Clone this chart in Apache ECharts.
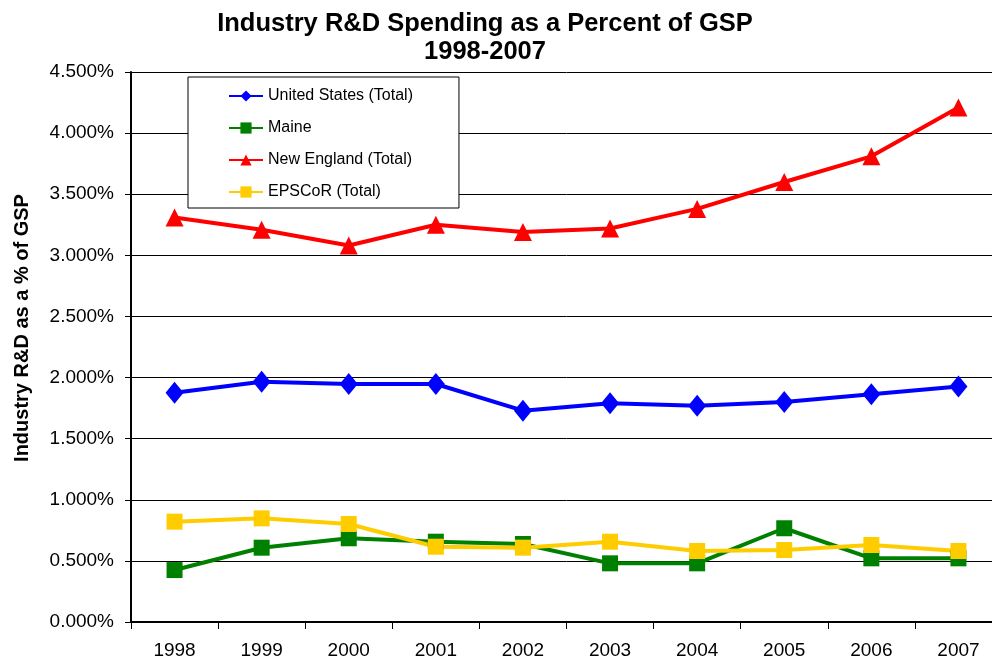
<!DOCTYPE html>
<html><head><meta charset="utf-8">
<script src="https://cdn.jsdelivr.net/npm/echarts@6/dist/echarts.min.js"></script>
<style>html,body{margin:0;padding:0;background:#fff;overflow:hidden}#c{width:1010px;height:661px}</style>
</head><body><div id="c"></div>
<script>
const years = ['1998','1999','2000','2001','2002','2003','2004','2005','2006','2007'];
const usTotal = [1.876, 1.966, 1.947, 1.947, 1.729, 1.789, 1.770, 1.800, 1.863, 1.926];
const maine = [0.425, 0.608, 0.685, 0.657, 0.638, 0.480, 0.480, 0.767, 0.521, 0.521];
const newEngland = [3.31, 3.21, 3.08, 3.25, 3.19, 3.22, 3.38, 3.60, 3.81, 4.21];
const epscor = [0.821, 0.848, 0.802, 0.616, 0.608, 0.657, 0.581, 0.589, 0.630, 0.581];
const yTicks = {min: 0, max: 4.5, interval: 0.5};

const font = 'Liberation Sans, Arial, Helvetica, sans-serif';
const chart = echarts.init(document.getElementById('c'), null, {renderer: 'canvas'});
function line(name, data, color, symbol, size) {
  return {
    name, type: 'line', data, symbol, symbolSize: size,
    lineStyle: {color, width: 4}, itemStyle: {color},
    animation: false
  };
}
chart.setOption({
  animation: false,
  title: {
    text: 'Industry R&D Spending as a Percent of GSP\n1998-2007',
    left: 480, top: 5, textAlign: 'center',
    textStyle: {fontFamily: font, fontSize: 25.5, fontWeight: 'bold', color: '#000', lineHeight: 28}
  },
  legend: {
    orient: 'vertical', left: 188, top: 77,
    backgroundColor: '#fff', borderColor: '#000', borderWidth: 1,
    padding: [11, 46, 8, 40], itemWidth: 34, itemHeight: 14, itemGap: 16,
    textStyle: {fontFamily: font, fontSize: 16, color: '#000', lineHeight: 16},
    data: ['United States (Total)', 'Maine', 'New England (Total)', 'EPSCoR (Total)']
  },
  graphic: [{
    type: 'text', x: 22, y: 328, rotation: Math.PI / 2,
    style: {text: 'Industry R&D as a % of GSP', fontFamily: font, fontSize: 20,
      fontWeight: 'bold', fill: '#000', align: 'center', verticalAlign: 'middle'}
  }],
  grid: {left: 131, top: 72, width: 871, height: 550, containLabel: false},
  xAxis: {
    type: 'category', data: years, boundaryGap: true,
    axisLine: {lineStyle: {color: '#000', width: 2}},
    axisTick: {show: true, length: 7, lineStyle: {color: '#000', width: 1}},
    axisLabel: {fontFamily: font, fontSize: 19, color: '#000', margin: 19}
  },
  yAxis: {
    type: 'value', min: yTicks.min, max: yTicks.max, interval: yTicks.interval,
    axisLine: {show: true, lineStyle: {color: '#000', width: 2}},
    axisTick: {show: true, length: 6, lineStyle: {color: '#000'}},
    axisLabel: {fontFamily: font, fontSize: 19, color: '#000', margin: 17,
      formatter: v => v.toFixed(3) + '%'},
    splitLine: {lineStyle: {color: '#000', width: 1}}
  },
  series: [
    line('United States (Total)', usTotal, '#0000FF', 'diamond', [18, 22]),
    line('Maine', maine, '#008000', 'rect', 16),
    line('New England (Total)', newEngland, '#FF0000', 'triangle', 18),
    line('EPSCoR (Total)', epscor, '#FFCC00', 'rect', 16)
  ]
});
</script></body></html>
